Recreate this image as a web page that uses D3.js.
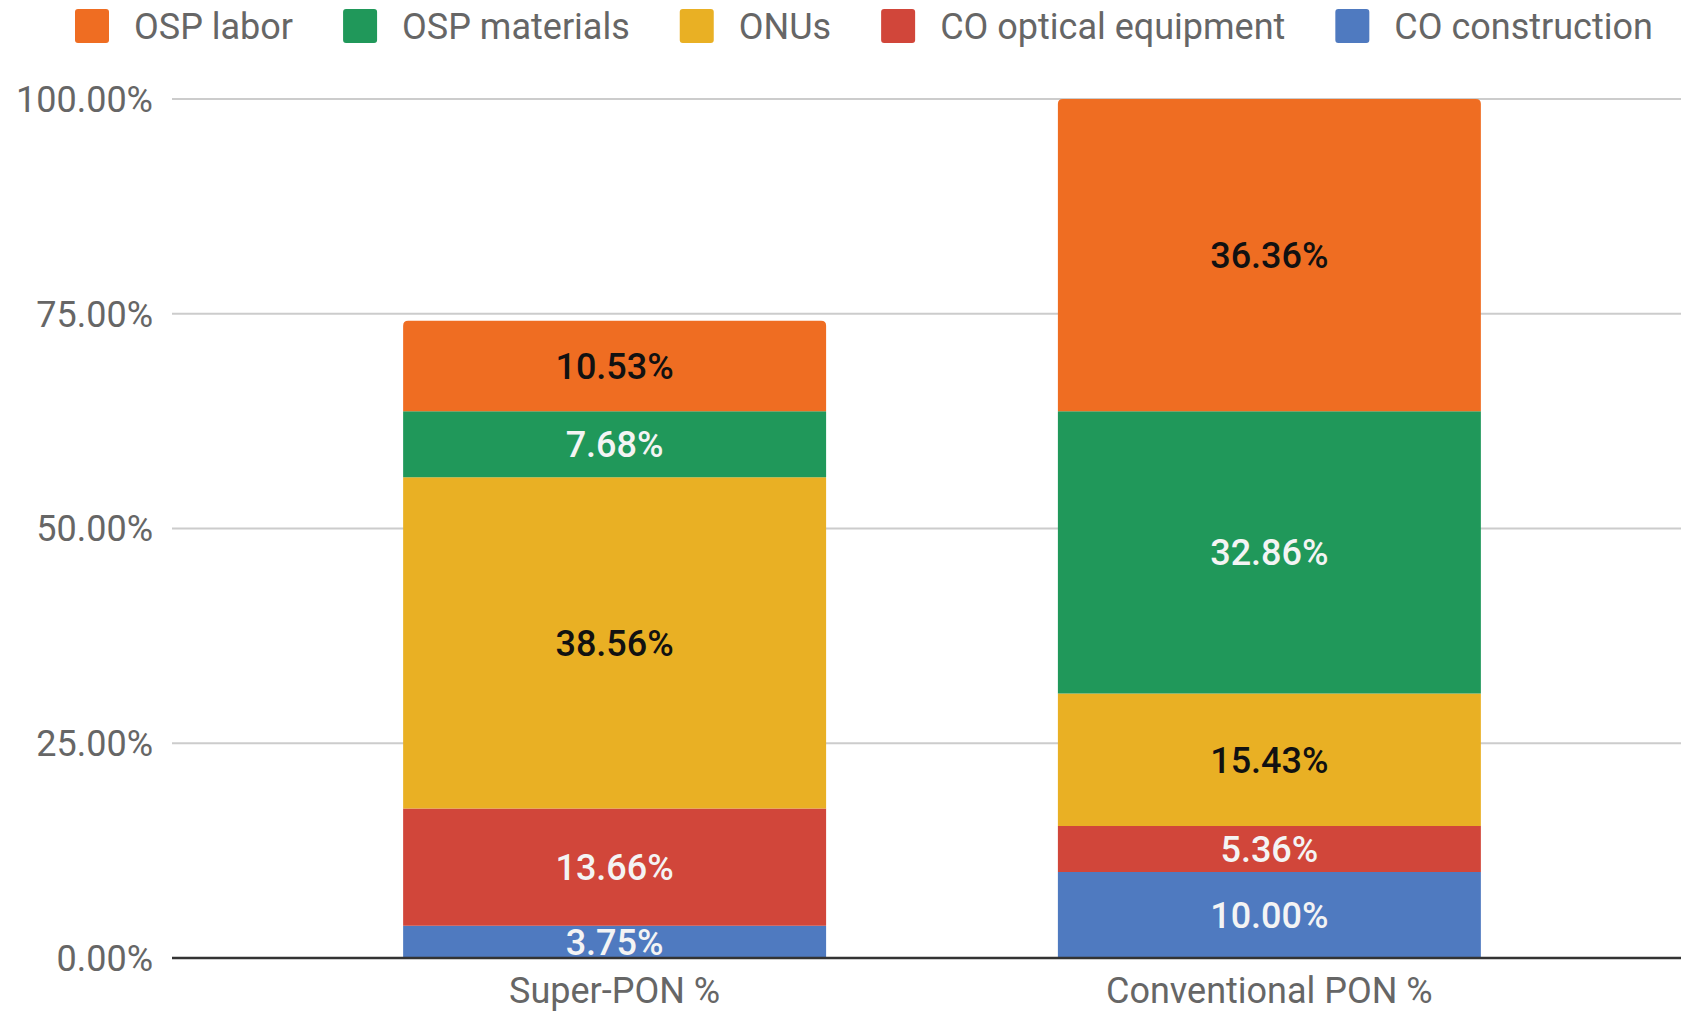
<!DOCTYPE html>
<html>
<head>
<meta charset="utf-8">
<script src="https://cdn.jsdelivr.net/npm/d3@7"></script>
<style>
  body { margin: 0; background: #fff; }
  svg { display: block; font-family: Roboto, "Noto Sans", sans-serif; }
</style>
</head>
<body>
<svg id="chart" width="1681" height="1013"></svg>
<script>
// chart data
var categories = ["Super-PON %", "Conventional PON %"];
var seriesNames = ["CO construction", "CO optical equipment", "ONUs", "OSP materials", "OSP labor"];
var coConstruction = [3.75, 10.00];
var coOptical = [13.66, 5.36];
var onus = [38.56, 15.43];
var ospMaterials = [7.68, 32.86];
var ospLabor = [10.53, 36.36];
var yTicks = [0, 25, 50, 75, 100];
var legendOrder = ["OSP labor", "OSP materials", "ONUs", "CO optical equipment", "CO construction"];

var colors = {
    "CO construction": "#4f7ac0",
    "CO optical equipment": "#d1463a",
    "ONUs": "#e9b024",
    "OSP materials": "#20985a",
    "OSP labor": "#ef6d22"
};
var labelColor = {
    "CO construction": "#f4f4f4",
    "CO optical equipment": "#f4f4f4",
    "ONUs": "#111",
    "OSP materials": "#f4f4f4",
    "OSP labor": "#111"
};

// build rows for d3.stack
var seriesValues = [coConstruction, coOptical, onus, ospMaterials, ospLabor];
var rows = categories.map(function(c, i) {
    var r = {cat: c};
    seriesNames.forEach(function(s, j) { r[s] = seriesValues[j][i]; });
    return r;
});
var stacked = d3.stack().keys(seriesNames)(rows);

var svg = d3.select("#chart");

var x = d3.scaleBand().domain(categories)
    .range([172, 1712])
    .paddingInner(0.354).paddingOuter(0.353);
var y = d3.scaleLinear().domain([0, 100]).range([958, 99]);

// gridlines
svg.append("g").selectAll("line")
    .data(yTicks.filter(function(d) { return d > 0; }))
    .join("line")
    .attr("x1", 172).attr("x2", 1681)
    .attr("y1", function(d) { return y(d); })
    .attr("y2", function(d) { return y(d); })
    .attr("stroke", "#cccccc")
    .attr("stroke-width", 2);

// y labels
svg.append("g").selectAll("text")
    .data(yTicks)
    .join("text")
    .attr("x", 153)
    .attr("y", function(d) { return y(d); })
    .attr("dy", "0.36em")
    .attr("text-anchor", "end")
    .attr("font-size", 36)
    .attr("fill", "#666")
    .text(function(d) { return d3.format(".2f")(d) + "%"; });

// bars (top segment gets rounded corners)
var topKey = seriesNames[seriesNames.length - 1];
function segPath(d, key) {
    var x0 = x(d.data.cat), w = x.bandwidth();
    var yt = y(d[1]), yb = y(d[0]);
    var r = key == topKey ? 5 : 0;
    return "M" + x0 + "," + yb + "V" + (yt + r) +
        "Q" + x0 + "," + yt + " " + (x0 + r) + "," + yt +
        "H" + (x0 + w - r) +
        "Q" + (x0 + w) + "," + yt + " " + (x0 + w) + "," + (yt + r) +
        "V" + yb + "Z";
}
var layers = svg.append("g").selectAll("g")
    .data(stacked)
    .join("g")
    .attr("fill", function(d) { return colors[d.key]; });
layers.selectAll("path")
    .data(function(d) { return d.map(function(p) { p.key = d.key; return p; }); })
    .join("path")
    .attr("d", function(d) { return segPath(d, d.key); });

// value labels
layers.selectAll("text")
    .data(function(d) { return d; })
    .join("text")
    .attr("x", function(d) { return x(d.data.cat) + x.bandwidth() / 2; })
    .attr("y", function(d) { return (y(d[0]) + y(d[1])) / 2; })
    .attr("dy", "0.36em")
    .attr("text-anchor", "middle")
    .attr("font-size", 36)
    .attr("font-weight", 500)
    .attr("fill", function(d) { return labelColor[d.key]; })
    .text(function(d) { return d3.format(".2f")(d[1] - d[0]) + "%"; });

// baseline
svg.append("line")
    .attr("x1", 172).attr("x2", 1681)
    .attr("y1", y(0)).attr("y2", y(0))
    .attr("stroke", "#333")
    .attr("stroke-width", 2.5);

// x labels
svg.append("g").selectAll("text")
    .data(categories)
    .join("text")
    .attr("x", function(d) { return x(d) + x.bandwidth() / 2; })
    .attr("y", 990)
    .attr("dy", "0.36em")
    .attr("text-anchor", "middle")
    .attr("font-size", 36)
    .attr("fill", "#666")
    .text(function(d) { return d; });

// legend, laid out left to right
var legend = svg.append("g");
var lx = 75;
legendOrder.forEach(function(name) {
    legend.append("rect")
        .attr("x", lx).attr("y", 9)
        .attr("width", 34).attr("height", 34)
        .attr("rx", 3)
        .attr("fill", colors[name]);
    var t = legend.append("text")
        .attr("x", lx + 59).attr("y", 26)
        .attr("dy", "0.36em")
        .attr("font-size", 36)
        .attr("fill", "#666")
        .text(name);
    lx = lx + 59 + t.node().getComputedTextLength() + 50;
});
</script>
</body>
</html>
